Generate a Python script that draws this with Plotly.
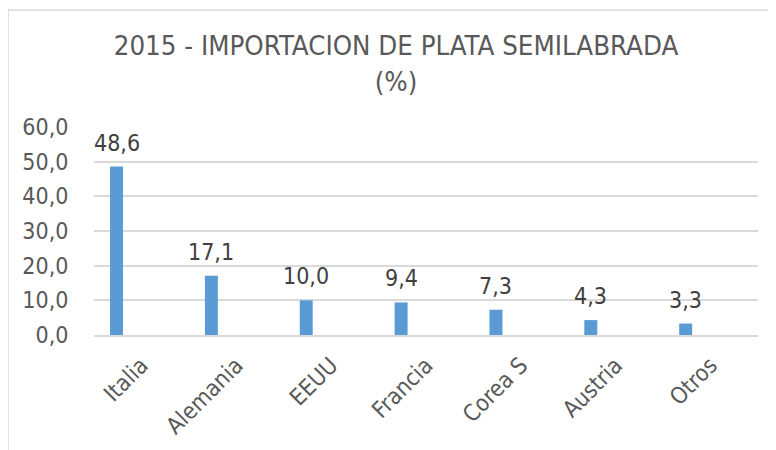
import plotly.graph_objects as go

categories = ["Italia", "Alemania", "EEUU", "Francia", "Corea S", "Austria", "Otros"]
values = [48.6, 17.1, 10.0, 9.4, 7.3, 4.3, 3.3]
y_ticks = [0, 10, 20, 30, 40, 50, 60]

FONT = "DejaVu Sans Condensed, DejaVu Sans, sans-serif"
GRAY = "#595959"

# page body adds 8px offset; compensate
OFF = 8
L, R, T, B = 94 - OFF, 776 - 758 + OFF, 127 - OFF, 450 - 335 + OFF
PW = 776 - L - R
PH = 450 - T - B
BAR_OFFSET, BAR_WIDTH = -0.331, 0.137

fig = go.Figure()
fig.add_trace(go.Bar(
    x=categories, y=values,
    marker=dict(color="#5B9BD5", line=dict(width=0)),
    width=BAR_WIDTH, offset=BAR_OFFSET,
    hoverinfo="skip",
))

xshift = (BAR_OFFSET + BAR_WIDTH / 2) * PW / len(categories)
for c, v in zip(categories, values):
    fig.add_annotation(
        x=c, y=v, xref="x", yref="y",
        text=f"{v:.1f}".replace(".", ","), showarrow=False,
        xanchor="center", yanchor="middle", xshift=xshift, yshift=24,
        font=dict(family=FONT, size=23, color="#404040"),
    )

fig.update_layout(
    width=776, height=450,
    margin=dict(l=L, r=R, t=T, b=B),
    paper_bgcolor="white", plot_bgcolor="white",
    separators=",.",
    showlegend=False,
    title=dict(
        text="2015 - IMPORTACION DE PLATA SEMILABRADA<br>(%)",
        x=(396 - OFF) / 776, xanchor="center", xref="container",
        y=1 - (55 - OFF) / 450, yanchor="top", yref="container",
        font=dict(family=FONT, size=27.4, color=GRAY),
    ),
    xaxis=dict(
        type="category", range=[-0.5, 6.5], automargin=False,
        tickangle=-45, tickfont=dict(family=FONT, size=23, color=GRAY),
        showline=True, linecolor="#D9D9D9", linewidth=1.5,
        ticks="outside", ticklen=6, tickcolor="rgba(0,0,0,0)",
        showgrid=False, fixedrange=True,
    ),
    yaxis=dict(
        range=[0, 60], tickvals=y_ticks, tickformat=".1f", automargin=False,
        tickfont=dict(family=FONT, size=23, color=GRAY),
        showgrid=True, gridcolor="#D9D9D9", gridwidth=1.5,
        zeroline=False, showline=False,
        ticks="outside", ticklen=20, tickcolor="rgba(0,0,0,0)",
        fixedrange=True,
    ),
    shapes=[dict(
        type="rect", xref="paper", yref="paper",
        x0=(8 - 94) / PW, x1=1.2, y0=-0.7, y1=(335 - 10) / PH,
        line=dict(color="#D9D9D9", width=1.5), fillcolor="rgba(0,0,0,0)",
        layer="below",
    )],
)

fig.write_html("out.html")
